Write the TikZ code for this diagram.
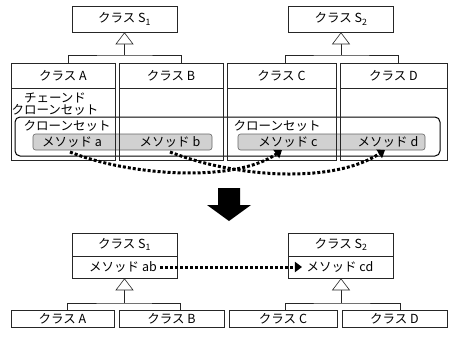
\documentclass[tikz,border=0pt]{standalone}
\usepackage{fontspec}
\setmainfont{Noto Sans CJK JP}
\usetikzlibrary{arrows.meta,calc}
\begin{document}
\begin{tikzpicture}[x=1pt,y=-1pt,
  txt/.style={font=\fontsize{12.5}{14}\selectfont,inner sep=1.5pt},
  box/.style={draw=black!85,line width=0.6pt,inner sep=0pt,font=\fontsize{12.5}{14}\selectfont},
  inh/.style={draw=black!85,line width=0.6pt,-{Triangle[open,fill=white,length=12pt,width=18pt]}},
  tree/.style={draw=black!85,line width=0.6pt},
  clonebox/.style={draw,line width=1pt,rounded corners=5pt,inner sep=0pt},
  methbox/.style={draw=black!60,line width=0.6pt,fill=black!18,rounded corners=2.5pt,inner sep=0pt},
  dotarrow/.style={line width=3pt,dash pattern=on 3pt off 2pt,-{Triangle[length=7pt,width=10pt]}},
]
\useasboundingbox (0,0) rectangle (450,338);
% ---------- top part ----------
\node[box,minimum width=105pt,minimum height=26pt] (s1) at (124.5,19) {クラス S\textsubscript{1}};
\node[box,minimum width=105pt,minimum height=26pt] (s2) at (341,19) {クラス S\textsubscript{2}};
% column bodies and method boxes
\node[clonebox,minimum width=425pt,minimum height=39pt] (clone) at (227.5,136.5) {};
\node[methbox,minimum width=179pt,minimum height=16pt] (m1) at (122.5,142) {};
\node[methbox,minimum width=187pt,minimum height=16pt] (m2) at (331.5,142) {};
\node[box,minimum width=104pt,minimum height=72pt] (ba) at (63,124) {};
\node[box,minimum width=104pt,minimum height=72pt] (bb) at (171,124) {};
\node[box,minimum width=109pt,minimum height=72pt] (bc) at (281.5,124) {};
\node[box,minimum width=107pt,minimum height=72pt] (bd) at (393.5,124) {};
\node[box,minimum width=104pt,minimum height=25pt] (ca) at (63,75.5) {クラス A};
\node[box,minimum width=104pt,minimum height=25pt] (cb) at (171,75.5) {クラス B};
\node[box,minimum width=109pt,minimum height=25pt] (cc) at (281.5,75.5) {クラス C};
\node[box,minimum width=107pt,minimum height=25pt] (cd) at (393.5,75.5) {クラス D};
\node[txt,align=center] (chain) at (55,104.5) {チェーンド\\[-2pt]クローンセット};
\node[txt,anchor=west] (cl1) at (22,126) {クローンセット};
\node[txt,anchor=west] (cl2) at (232,126) {クローンセット};
\node[txt] (mta) at (72,142) {メソッド a};
\node[txt] (mtb) at (170,142) {メソッド b};
\node[txt] (mtc) at (288,142) {メソッド c};
\node[txt] (mtd) at (388,142) {メソッド d};
% inheritance top
\coordinate (j1) at (124.5,55);
\coordinate (j2) at (341,55);
\draw[inh] (j1) -- (s1.south);
\draw[inh] (j2) -- (s2.south);
\draw[tree] ([xshift=5pt]ca.north) |- (j1) -| ([xshift=10pt]cb.north);
\draw[tree] ([xshift=3.5pt]cc.north) |- (j2) -| ([xshift=4.5pt]cd.north);
% dotted moves
\coordinate (ea) at (70,152);
\coordinate (eb) at (170,152);
\coordinate (ec) at (282,150);
\coordinate (ed) at (385,150);
\draw[dotarrow] (ea) .. controls (130,176) and (235,183) .. (ec);
\draw[dotarrow] (eb) .. controls (240,179) and (335,183) .. (ed);
% big arrow
\fill (218,188) -- (240,188) -- (240,205) -- (251,205) -- (229,221) -- (207,205) -- (218,205) -- cycle;
% ---------- bottom part ----------
\node[box,minimum width=105pt,minimum height=23pt] (s1h) at (124.5,244.5) {クラス S\textsubscript{1}};
\node[box,minimum width=105pt,minimum height=22pt] (s1m) at (124.5,267) {};
\node[box,minimum width=105pt,minimum height=23pt] (s2h) at (341,244.5) {クラス S\textsubscript{2}};
\node[box,minimum width=105pt,minimum height=22pt] (s2m) at (341,267) {};
\node[txt] (mab) at (123,267) {メソッド ab};
\node[txt] (mcd) at (340,267) {メソッド cd};
\draw[dotarrow] ([xshift=2pt]mab.east) -- ([xshift=-3pt]mcd.west);
\node[box,minimum width=103pt,minimum height=17pt] (da) at (62.5,318.5) {クラス A};
\node[box,minimum width=105pt,minimum height=17pt] (db) at (171.5,318.5) {クラス B};
\node[box,minimum width=108pt,minimum height=17pt] (dc) at (283,318.5) {クラス C};
\node[box,minimum width=105pt,minimum height=17pt] (dd) at (394.5,318.5) {クラス D};
\coordinate (k1) at (124.5,303);
\coordinate (k2) at (341,303);
\draw[inh] (k1) -- (s1m.south);
\draw[inh] (k2) -- (s2m.south);
\draw[tree] ([xshift=4.5pt]da.north) |- (k1) -| ([xshift=8.5pt]db.north);
\draw[tree] ([xshift=2pt]dc.north) |- (k2) -| ([xshift=5.5pt]dd.north);
\end{tikzpicture}
\end{document}
